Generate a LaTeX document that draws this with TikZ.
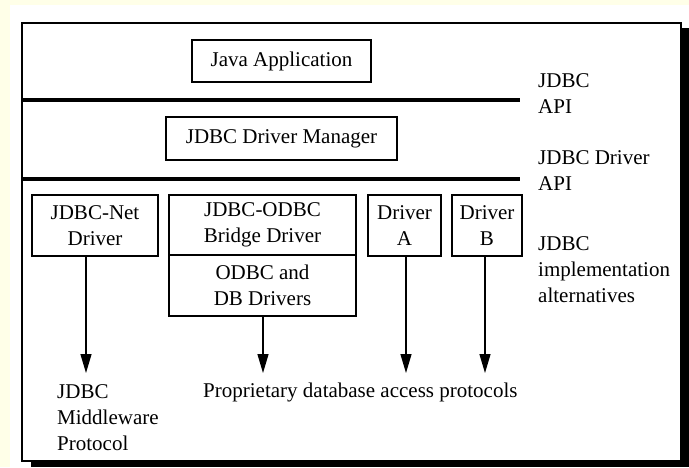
\documentclass[tikz,border=0pt]{standalone}
\usepackage{fontspec}
\setmainfont{Liberation Serif}
\usetikzlibrary{arrows.meta}
\definecolor{paper}{RGB}{255,255,232}
\begin{document}
\begin{tikzpicture}[x=1pt,y=-1pt,
  every node/.style={font=\fontsize{21}{26}\selectfont, inner sep=0pt},
  layerbox/.style={draw, line width=1.3pt, fill=white, align=center},
  apiline/.style={line width=4pt},
  arr/.style={line width=1.3pt, -{Triangle[width=11pt,length=19pt]}},
  sidetext/.style={align=left, anchor=base west}]
  % page, white sheet and the shadowed frame
  \fill[paper] (0,0) rectangle (689,467);
  \useasboundingbox (0,0) rectangle (689,467);
  \fill[white] (10,5) rectangle (689,467);
  \fill[black] (31,28) rectangle (689,467);
  \draw[line width=1.5pt, fill=white] (22,23) rectangle (681,461);

  % layers
  \node[layerbox, minimum width=179pt, minimum height=42pt] (app) at (281.5,61) {Java Application};
  \draw[apiline] (22,99.5) -- (520,99.5);
  \node[layerbox, minimum width=231pt, minimum height=43pt] (mgr) at (281.5,138.5) {JDBC Driver Manager};
  \draw[apiline] (22,178.5) -- (520,178.5);

  % driver alternatives
  \node[layerbox, minimum width=126pt, minimum height=61pt] (net) at (95,225.5) {JDBC-Net\\Driver};
  \node[layerbox, minimum width=187pt, minimum height=60pt] (bridge) at (262.5,225) {JDBC-ODBC\\Bridge Driver};
  \node[layerbox, minimum width=187pt, minimum height=61pt] (odbc) at (262.5,285.5) {ODBC and\\DB Drivers};
  \node[layerbox, minimum width=73pt, minimum height=61pt] (drva) at (404.5,225.5) {Driver\\A};
  \node[layerbox, minimum width=70pt, minimum height=61pt] (drvb) at (487,225.5) {Driver\\B};

  % protocol arrows
  \coordinate (tipnet) at (86,373);
  \coordinate (tipodbc) at (263,373);
  \coordinate (tipa) at (406,373);
  \coordinate (tipb) at (485,373);
  \draw[arr] (net.south -| tipnet) -- (tipnet);
  \draw[arr] (odbc.south -| tipodbc) -- (tipodbc);
  \draw[arr] (drva.south -| tipa) -- (tipa);
  \draw[arr] (drvb.south -| tipb) -- (tipb);

  % protocol labels (a multi-line node sits on the baseline of its last line)
  \node[sidetext] (mwproto) at (57,450) {JDBC\\Middleware\\Protocol};
  \node[anchor=base west] (dbproto) at (203,397) {Proprietary database access protocols};

  % interface labels
  \node[sidetext] (jdbcapi) at (538,113) {JDBC\\API};
  \node[sidetext] (drvapi) at (538,190) {JDBC Driver\\API};
  \node[sidetext] (impl) at (538,302) {JDBC\\implementation\\alternatives};
\end{tikzpicture}
\end{document}
